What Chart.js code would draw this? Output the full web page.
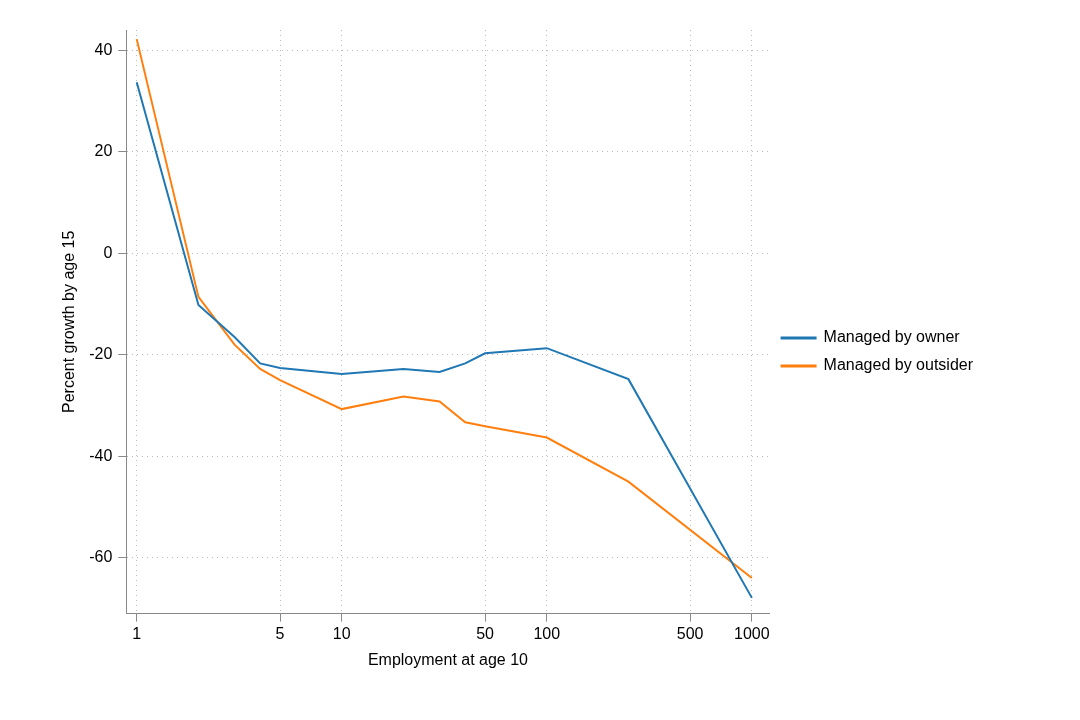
<!DOCTYPE html>
<html>
<head>
<meta charset="utf-8">
<script src="https://cdn.jsdelivr.net/npm/chart.js@4"></script>
<style>
  html, body { margin: 0; background: #fff; }
  #wrap { width: 1080px; height: 720px; }
</style>
</head>
<body>
<div id="wrap"><canvas id="c"></canvas></div>
<script>
const employment = [1, 2, 3, 4, 5, 10, 20, 30, 40, 50, 100, 250, 1000];
const ownerGrowth = [33.7, -10.2, -16.5, -21.7, -22.6, -23.8, -22.8, -23.4, -21.7, -19.7, -18.7, -24.8, -67.9];
const outsiderGrowth = [42.2, -8.6, -18, -22.8, -25, -30.7, -28.2, -29.2, -33.3, -34.1, -36.3, -45, -64];
const xTicks = [1, 5, 10, 50, 100, 500, 1000];
const yTicks = [-60, -40, -20, 0, 20, 40];

const font = { family: 'Helvetica, Arial, "Liberation Sans", sans-serif', size: 16 };
Chart.defaults.font.family = font.family;
Chart.defaults.color = '#000';

const toPoints = vals => employment.map((x, i) => ({ x, y: vals[i] }));

new Chart(document.getElementById('c'), {
  type: 'line',
  data: {
    datasets: [
      { label: 'Managed by owner', data: toPoints(ownerGrowth), borderColor: '#1f77b4', borderWidth: 2, pointRadius: 0, tension: 0 },
      { label: 'Managed by outsider', data: toPoints(outsiderGrowth), borderColor: '#ff7f0e', borderWidth: 2, pointRadius: 0, tension: 0 }
    ]
  },
  options: {
    responsive: true,
    maintainAspectRatio: false,
    animation: false,
    layout: { padding: { left: 56, top: 30, right: 97, bottom: 46 } },
    plugins: {
      legend: {
        position: 'right',
        labels: { boxWidth: 34, boxHeight: 1, padding: 12, font: { size: 16 }, color: '#000' }
      },
      tooltip: { enabled: false }
    },
    scales: {
      x: {
        type: 'logarithmic',
        min: 0.89, max: 1220,
        afterBuildTicks: s => { s.ticks = xTicks.map(v => ({ value: v })); },
        ticks: { font, color: '#000', callback: v => String(v), maxRotation: 0, autoSkip: false },
        grid: { color: '#bbb', tickColor: '#888', tickLength: 8, lineWidth: 1 },
        border: { display: true, color: '#888', dash: [1, 4] },
        title: { display: true, text: 'Employment at age 10', font, color: '#000' }
      },
      y: {
        min: -71, max: 44,
        afterBuildTicks: s => { s.ticks = yTicks.map(v => ({ value: v })); },
        ticks: { font, color: '#000', padding: 6 },
        grid: { color: '#bbb', tickColor: '#888', tickLength: 8 },
        border: { display: true, color: '#888', dash: [1, 4] },
        title: { display: true, text: 'Percent growth by age 15', font, color: '#000' }
      }
    }
  }
});
</script>
</body>
</html>
